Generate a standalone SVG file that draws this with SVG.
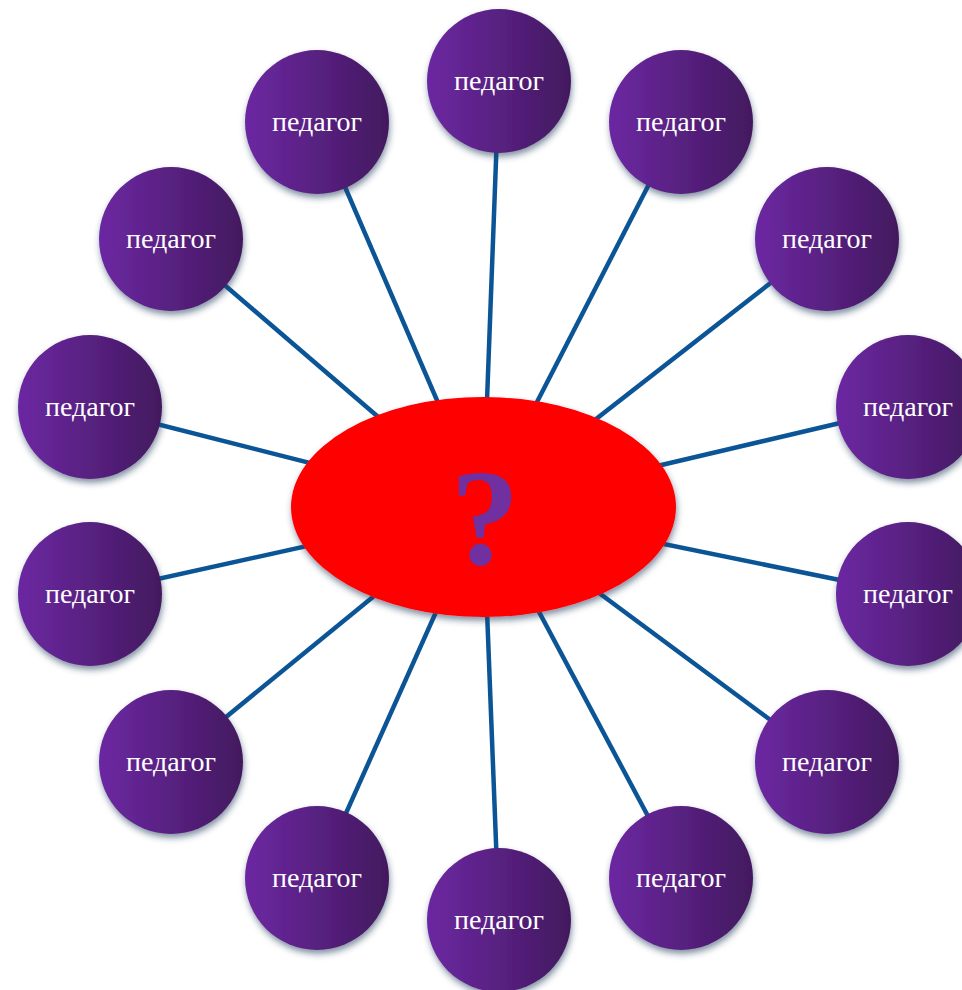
<svg xmlns="http://www.w3.org/2000/svg" width="962" height="990" viewBox="0 0 962 990">
<defs>
<linearGradient id="g" x1="0" y1="0" x2="1" y2="0">
<stop offset="0" stop-color="#6c28a2"/>
<stop offset="1" stop-color="#43195f"/>
</linearGradient>
<filter id="sh" x="-20%" y="-20%" width="140%" height="140%">
<feDropShadow dx="1" dy="4" stdDeviation="3" flood-color="#1e3a5a" flood-opacity="0.55"/>
</filter>
</defs>
<style>
.c{fill:url(#g);filter:url(#sh)}
.t{fill:#fff;font-family:"Liberation Serif","DejaVu Serif",serif;font-size:28px;text-anchor:middle}
.l{stroke:#0b5597;stroke-width:4.5;fill:none}
</style>
<rect width="962" height="990" fill="#fff"/>
<g id="connectors">
<line class="l" x1="499" y1="81" x2="483" y2="507"/>
<line class="l" x1="317" y1="122" x2="483" y2="507"/>
<line class="l" x1="681" y1="122" x2="483" y2="507"/>
<line class="l" x1="171" y1="239" x2="483" y2="507"/>
<line class="l" x1="827" y1="239" x2="483" y2="507"/>
<line class="l" x1="90" y1="407" x2="483" y2="507"/>
<line class="l" x1="908" y1="407" x2="483" y2="507"/>
<line class="l" x1="90" y1="594" x2="483" y2="507"/>
<line class="l" x1="908" y1="594" x2="483" y2="507"/>
<line class="l" x1="171" y1="762" x2="483" y2="507"/>
<line class="l" x1="827" y1="762" x2="483" y2="507"/>
<line class="l" x1="317" y1="878" x2="483" y2="507"/>
<line class="l" x1="681" y1="878" x2="483" y2="507"/>
<line class="l" x1="499" y1="920" x2="483" y2="507"/>
</g>
<g id="center">
<ellipse cx="483.5" cy="507" rx="192.5" ry="110" fill="#ff0000" filter="url(#sh)"/>
<text x="485" y="564" fill="#7030a0" font-family="'Liberation Serif','DejaVu Serif',serif" font-weight="bold" font-size="138" text-anchor="middle">?</text>
</g>
<g id="n1"><circle class="c" cx="499" cy="81" r="72"/><text class="t" x="499" y="90">педагог</text></g>
<g id="n2"><circle class="c" cx="317" cy="122" r="72"/><text class="t" x="317" y="131">педагог</text></g>
<g id="n3"><circle class="c" cx="681" cy="122" r="72"/><text class="t" x="681" y="131">педагог</text></g>
<g id="n4"><circle class="c" cx="171" cy="239" r="72"/><text class="t" x="171" y="248">педагог</text></g>
<g id="n5"><circle class="c" cx="827" cy="239" r="72"/><text class="t" x="827" y="248">педагог</text></g>
<g id="n6"><circle class="c" cx="90" cy="407" r="72"/><text class="t" x="90" y="416">педагог</text></g>
<g id="n7"><circle class="c" cx="908" cy="407" r="72"/><text class="t" x="908" y="416">педагог</text></g>
<g id="n8"><circle class="c" cx="90" cy="594" r="72"/><text class="t" x="90" y="603">педагог</text></g>
<g id="n9"><circle class="c" cx="908" cy="594" r="72"/><text class="t" x="908" y="603">педагог</text></g>
<g id="n10"><circle class="c" cx="171" cy="762" r="72"/><text class="t" x="171" y="771">педагог</text></g>
<g id="n11"><circle class="c" cx="827" cy="762" r="72"/><text class="t" x="827" y="771">педагог</text></g>
<g id="n12"><circle class="c" cx="317" cy="878" r="72"/><text class="t" x="317" y="887">педагог</text></g>
<g id="n13"><circle class="c" cx="681" cy="878" r="72"/><text class="t" x="681" y="887">педагог</text></g>
<g id="n14"><circle class="c" cx="499" cy="920" r="72"/><text class="t" x="499" y="929">педагог</text></g>
</svg>
